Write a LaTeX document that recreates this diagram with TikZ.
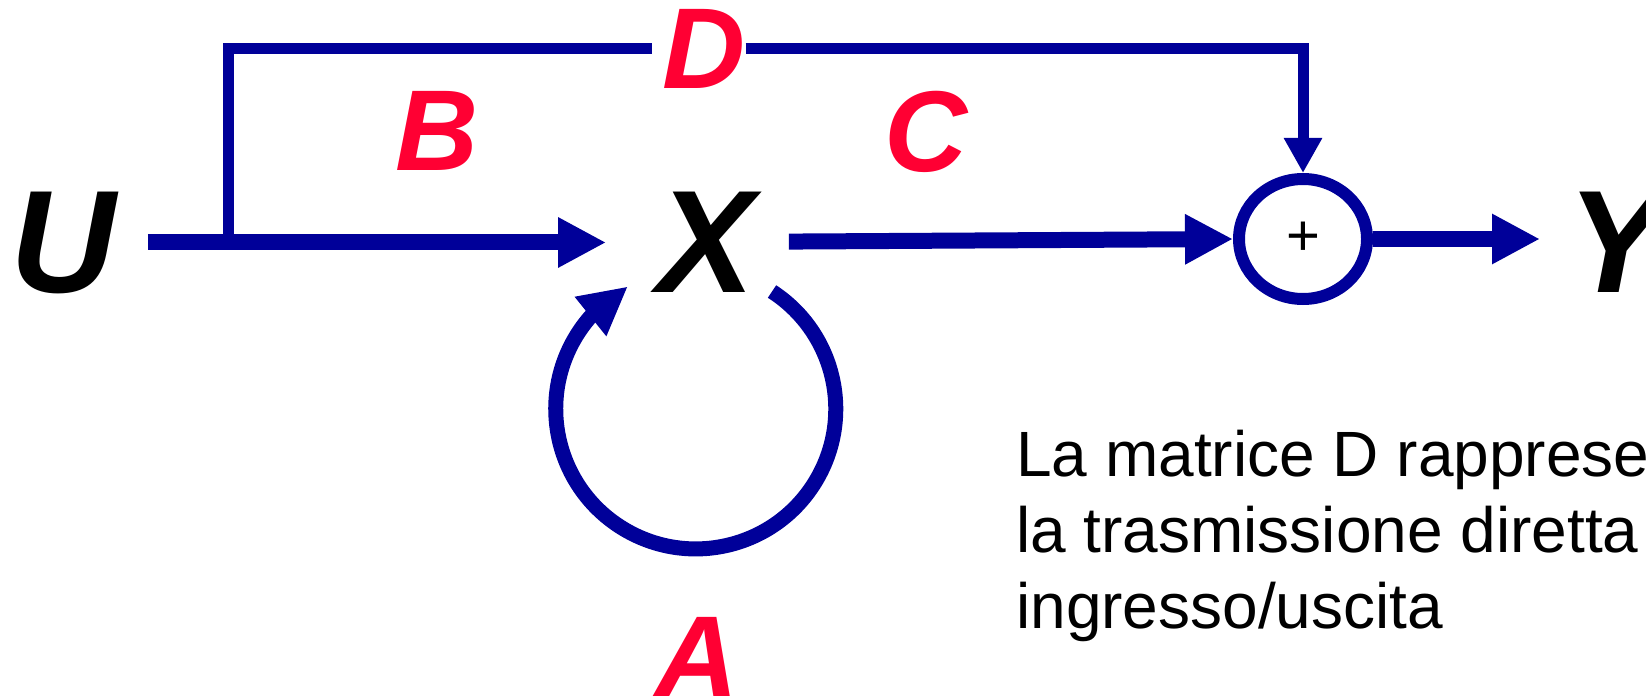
\documentclass[tikz,border=0pt]{standalone}
\usepackage{fontspec}
\setmainfont{Liberation Sans}
\usepackage{xcolor}
\usetikzlibrary{arrows.meta,positioning,shapes.geometric,bending}
\definecolor{matblue}{RGB}{0,0,153}
\definecolor{matred}{RGB}{255,0,51}
\newcommand{\varfont}{\fontsize{146}{146}\selectfont\bfseries\itshape}
\newcommand{\matfont}{\fontsize{115}{115}\selectfont\bfseries\itshape}
\newcommand{\notefont}{\fontsize{64}{76}\selectfont}
\tikzset{
	var/.style={font=\varfont, inner sep=0pt, anchor=base},
	mat/.style={font=\matfont, text=matred, inner sep=0pt},
	flow/.style={draw=matblue, line width=16pt, -{Triangle[length=48pt, width=47pt]}},
	feed/.style={draw=matblue, line width=11pt},
	adder/.style={draw=matblue, ellipse, line width=12pt, minimum width=128pt, minimum height=120pt, inner sep=0pt, font=\fontsize{58}{58}\selectfont},
	note/.style={font=\notefont, align=left, inner sep=0pt, anchor=north west}
}

\begin{document}
\begin{tikzpicture}[x=1pt, y=-1pt]
	\useasboundingbox (0,0) rectangle (1646,698);
	\clip (0,0) rectangle (1646,698);
	% state, input and output
	\node[var] (U) at (63,292) {U};
	\node[var] (X) at (706,292) {X};
	\node[adder] (sum) at (1303,239) {+};
	\node[var, anchor=base west] (Y) at (1567,292) {Y};
	% matrices
	\node[mat] (B) at (437,131) {B};
	\node[mat] (C) at (926,132) {C};
	\node[mat] (D) at (704,49) {D};
	\node[mat, anchor=base] (A) at (697,696) {A};
	\node[note] (txt) at (1016,430) {La matrice D rappresenta\\la trasmissione diretta\\ingresso/uscita};
	\coordinate (split) at (228,238);
	\coordinate (loopin) at (772,291.5);
	% connectors
	\draw[flow, shorten <=32pt, shorten >=51pt] (U.east) -- (U.east -| X.west);
	\draw[feed, shorten >=10pt] (split) |- (D.west);
	\draw[feed, -{Triangle[length=35pt, width=36pt]}] (D.east) -| (sum.north);
	\draw[flow, shorten <=34pt] (X.east) -- (sum.west);
	\draw[flow, shorten >=27pt] (sum.east) -- (sum.east -| Y.west);
	\draw[flow, line width=15pt, -{Triangle[length=48pt, width=47pt, flex]}] (loopin) arc[start angle=57, end angle=-241, radius=140pt];
\end{tikzpicture}
\end{document}
